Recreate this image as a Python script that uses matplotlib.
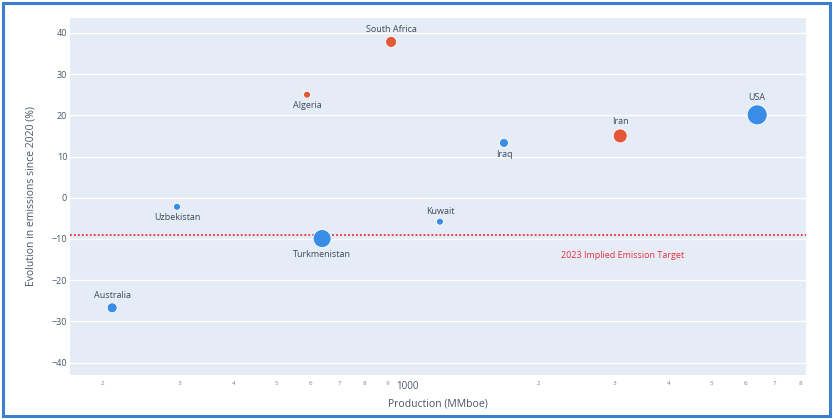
import numpy as np
import matplotlib.pyplot as plt
from matplotlib.patches import Rectangle

plt.rcParams['font.family'] = ['Open Sans', 'DejaVu Sans']

countries = ['South Africa', 'Algeria', 'Iran', 'USA', 'Iraq', 'Kuwait',
             'Uzbekistan', 'Turkmenistan', 'Australia']
production = [919, 589, 3090, 6380, 1670, 1190, 296, 638, 210]
evolution = [37.8, 25.0, 15.0, 20.1, 13.3, -5.8, -2.2, -9.9, -26.7]
bubble_px = [11, 7, 14, 20, 9, 7, 7, 18, 10]
above_target = [True, True, True, False, False, False, False, False, False]
label_pos = ['top', 'bottom', 'top', 'top', 'bottom', 'top', 'bottom', 'bottom', 'top']
target = -9.0
target_label = '2023 Implied Emission Target'

RED = '#e4583a'
BLUE = '#3a8de6'

fig = plt.figure(figsize=(8.33, 4.19), dpi=100)
ax = fig.add_axes([70 / 833, 1 - 375 / 419, 736 / 833, 357 / 419])
ax.set_facecolor('#e5ecf6')

colors = [RED if a else BLUE for a in above_target]
sizes = [(d * 0.72) ** 2 for d in bubble_px]
ax.scatter(production, evolution, s=sizes, c=colors, edgecolors='white',
           linewidths=0.6, zorder=3)

# labels above / below the bubbles
for name, x, y, d, pos in zip(countries, production, evolution, bubble_px, label_pos):
    off = d * 0.72 / 2 + 5
    if pos == 'bottom':
        off = -off
    ax.annotate(name, (x, y), xytext=(0, off), textcoords='offset points',
                ha='center', va='center', fontsize=6.5, color='#3d4a5c')

ax.axhline(target, color='#e8303f', linestyle=(0, (1, 1.2)), linewidth=1.3, zorder=2)
ax.text(3130, -14.1, target_label, color='#e8303f', fontsize=6.5,
        ha='center', va='center')

ax.set_xscale('log')
ax.set_xlim(168, 8260)
ax.set_ylim(-43, 43.6)

xt = [200, 300, 400, 500, 600, 700, 800, 900, 1000,
      2000, 3000, 4000, 5000, 6000, 7000, 8000]
xl = ['2', '3', '4', '5', '6', '7', '8', '9', '1000',
      '2', '3', '4', '5', '6', '7', '8']
ax.xaxis.set_minor_locator(plt.NullLocator())
ax.set_xticks(xt)
ax.set_xticklabels(xl)
for lab in ax.get_xticklabels():
    if lab.get_text() == '1000':
        lab.set_fontsize(7)
        lab.set_color('#4a5568')
    else:
        lab.set_fontsize(4.5)
        lab.set_color('#7a8494')

ax.set_yticks(np.arange(-40, 41, 10))
ax.tick_params(axis='y', labelsize=6.5, labelcolor='#4a5568', length=0, pad=2)
ax.tick_params(axis='x', length=0, pad=4)
ax.grid(axis='y', color='white', linewidth=1)
ax.set_axisbelow(True)
for s in ax.spines.values():
    s.set_visible(False)

ax.set_xlabel('Production (MMboe)', fontsize=7.5, color='#4a5568', labelpad=5)
ax.set_ylabel('Evolution in emissions since 2020 (%)', fontsize=7.5,
              color='#4a5568', labelpad=11)

fig.patches.append(Rectangle((3 / 833, 3 / 419), 827 / 833, 413 / 419,
                             transform=fig.transFigure, fill=False,
                             edgecolor='#3d7fcf', linewidth=2.2))

fig.savefig('out.png', dpi=100)
